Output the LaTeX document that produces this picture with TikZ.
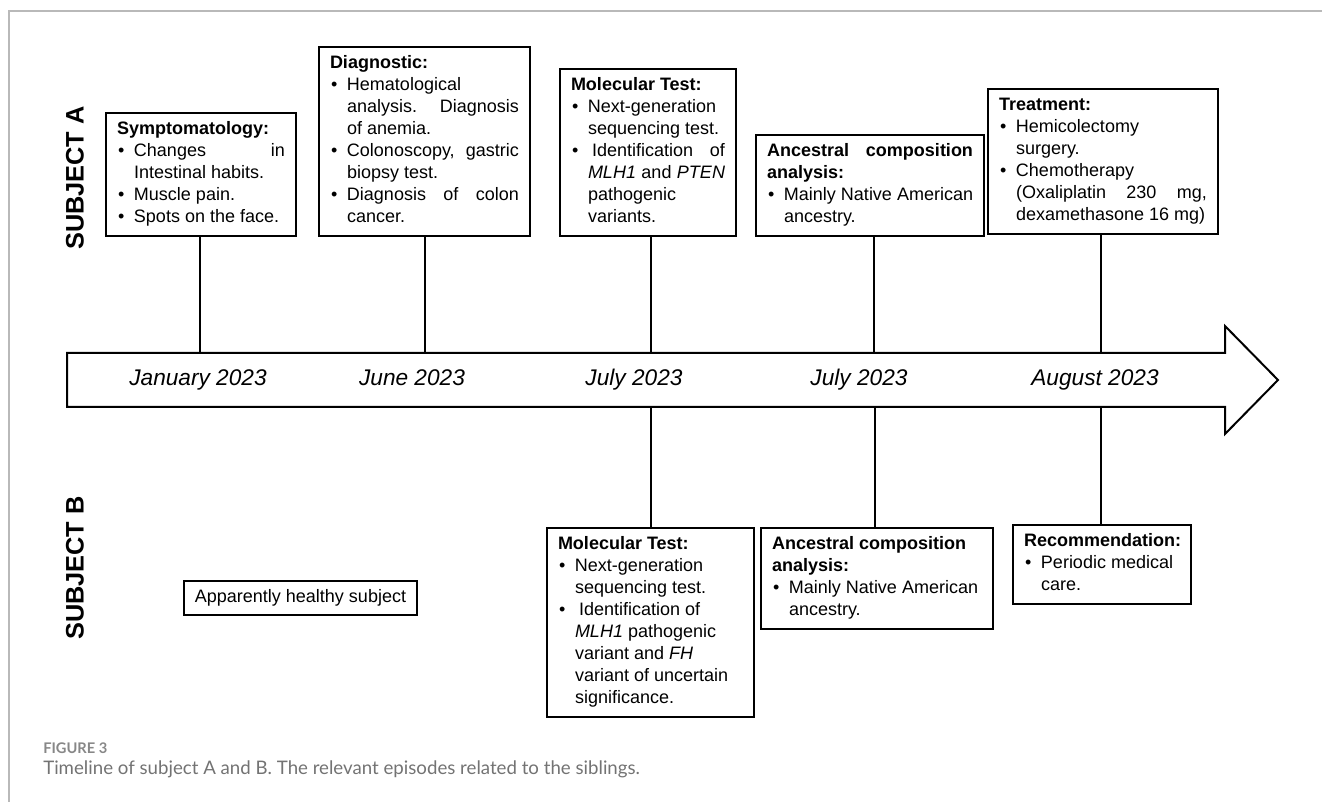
\documentclass[tikz,border=0pt]{standalone}
\usepackage{fontspec}
\setmainfont{Liberation Sans}
\newfontfamily\capfont{Lato}
\newdimen\px \px=0.75pt
\newdimen\bi \bi=17\px
\newdimen\bo \bo=1\px
\newcommand\Hd[1]{\leavevmode\strut\mbox{\textbf{#1}}\par}
\newcommand\HJ[1]{\leavevmode\strut\makebox[\linewidth][s]{\textbf{#1}}\par}
\newcommand\Bu[1]{\leavevmode\strut\makebox[\bi][l]{\hspace*{\bo}\textbullet}\mbox{#1}\par}
\newcommand\Co[1]{\leavevmode\strut\hspace*{\bi}\mbox{#1}\par}
\newcommand\BJ[1]{\leavevmode\strut\makebox[\bi][l]{\hspace*{\bo}\textbullet}\makebox[\dimexpr\linewidth-\bi\relax][s]{#1}\par}
\newcommand\CJ[1]{\leavevmode\strut\hspace*{\bi}\makebox[\dimexpr\linewidth-\bi\relax][s]{#1}\par}
\definecolor{framegray}{RGB}{185,185,185}
\definecolor{capgray}{RGB}{135,135,135}
\definecolor{captext}{RGB}{115,115,115}
\begin{document}
\begin{tikzpicture}[x=0.75pt,y=-0.75pt,
  evbox/.style={draw, line width=1.5pt, inner xsep=8.25pt, inner ysep=4.875pt,
    font=\fontsize{13.5pt}{16.5pt}\selectfont},
  datelbl/.style={anchor=base, font=\itshape\fontsize{17pt}{20pt}\selectfont},
  subjlbl/.style={rotate=90, font=\bfseries\fontsize{19pt}{22pt}\selectfont},
  conn/.style={line width=1.4pt}]
\useasboundingbox (0,0) rectangle (1322,802);
% frame
\draw[framegray, line width=1pt] (9,802) -- (9,11) -- (1322,11);
% timeline arrow
\draw[line width=1.5pt, line join=miter] (67,353) -- (1225,353) -- (1225,326) -- (1278,380)
  -- (1225,434) -- (1225,407) -- (67,407) -- cycle;
% dates
\node[datelbl] (d1) at (198,386) {January 2023};
\node[datelbl] (d2) at (412,386) {June 2023};
\node[datelbl] (d3) at (634,386) {July 2023};
\node[datelbl] (d4) at (859,386) {July 2023};
\node[datelbl] (d5) at (1095,386) {August 2023};
% subject labels
\node[subjlbl] (sA) at (75,178) {SUBJECT A};
\node[subjlbl] (sB) at (75,568) {SUBJECT B};
% top boxes
\node[evbox, anchor=south west] (symp) at (105,237) {\parbox{168\px}{%
  \Hd{Symptomatology:}
  \BJ{Changes in}
  \Co{Intestinal habits.}
  \Bu{Muscle pain.}
  \Bu{Spots on the face.}}};
\node[evbox, anchor=south west] (diag) at (318,237) {\parbox{189\px}{%
  \Hd{Diagnostic:}
  \Bu{Hematological}
  \CJ{analysis. Diagnosis}
  \Co{of anemia.}
  \BJ{Colonoscopy, gastric}
  \Co{biopsy test.}
  \BJ{Diagnosis of colon}
  \Co{cancer.}}};
\node[evbox, anchor=south west] (molA) at (559,237) {\parbox{154\px}{%
  \Hd{Molecular Test:}
  \Bu{Next-generation}
  \Co{sequencing test.}
  \BJ{\hspace*{4\px}Identification of}
  \CJ{\textit{MLH1} and \textit{PTEN}}
  \Co{pathogenic}
  \Co{variants.}}};
\node[evbox, anchor=south west] (ancA) at (755,237) {\parbox{206\px}{%
  \HJ{Ancestral composition}
  \Hd{analysis:}
  \Bu{Mainly Native American}
  \Co{ancestry.}}};
\node[evbox, anchor=south west] (treat) at (987,235) {\parbox{208\px}{%
  \Hd{Treatment:}
  \Bu{Hemicolectomy}
  \Co{surgery.}
  \Bu{Chemotherapy}
  \CJ{(Oxaliplatin 230 mg,}
  \Co{dexamethasone 16 mg)}}};
% bottom boxes
\node[evbox, anchor=north west] (molB) at (546,527) {\parbox{185\px}{%
  \Hd{Molecular Test:}
  \Bu{Next-generation}
  \Co{sequencing test.}
  \Bu{\hspace*{4\px}Identification of}
  \Co{\textit{MLH1} pathogenic}
  \Co{variant and \textit{FH}}
  \Co{variant of uncertain}
  \Co{significance.}}};
\node[evbox, anchor=north west] (ancB) at (760,527) {\parbox{210\px}{%
  \Hd{Ancestral composition}
  \Hd{analysis:}
  \Bu{Mainly Native American}
  \Co{ancestry.}}};
\node[evbox, anchor=north west] (rec) at (1012,524) {\parbox{156\px}{%
  \Hd{Recommendation:}
  \Bu{Periodic medical}
  \Co{care.}}};
\node[draw, line width=1.5pt, anchor=north west, inner sep=0pt,
  minimum width=174.75pt, minimum height=25.5pt,
  font=\fontsize{13.5pt}{16.5pt}\selectfont] (healthy) at (183,580) {Apparently healthy subject};
% connector end points on the arrow
\coordinate (c1) at (200,353);
\coordinate (c2) at (425,353);
\coordinate (c3) at (651,353);
\coordinate (c4) at (874,353);
\coordinate (c5) at (1101,353);
\coordinate (b3) at (651,407);
\coordinate (b4) at (875,407);
\coordinate (b5) at (1101,407);
\draw[conn] (symp.south -| c1) -- (c1);
\draw[conn] (diag.south -| c2) -- (c2);
\draw[conn] (molA.south -| c3) -- (c3);
\draw[conn] (ancA.south -| c4) -- (c4);
\draw[conn] (treat.south -| c5) -- (c5);
\draw[conn] (b3) -- (molB.north -| b3);
\draw[conn] (b4) -- (ancB.north -| b4);
\draw[conn] (b5) -- (rec.north -| b5);
% caption
\node[anchor=west, inner sep=0pt, text=capgray, font=\capfont\bfseries\fontsize{11pt}{13pt}\selectfont] (fig) at (43,748) {FIGURE 3};
\node[anchor=west, inner sep=0pt, text=captext, font=\capfont\fontsize{14pt}{16pt}\selectfont] (cap) at (43,769) {Timeline of subject A and B. The relevant episodes related to the siblings.};
\end{tikzpicture}
\end{document}
